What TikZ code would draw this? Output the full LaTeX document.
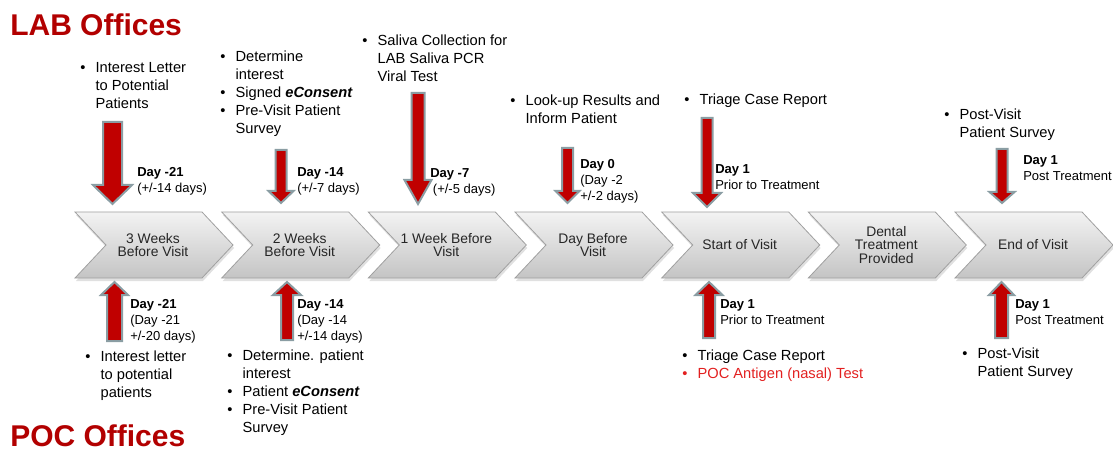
\documentclass[tikz,border=0pt]{standalone}
\usepackage{fontspec}
\setmainfont{Liberation Sans}

\definecolor{officered}{RGB}{178,0,0}
\definecolor{arrowred}{RGB}{192,0,0}
\definecolor{arrowrim}{RGB}{138,157,163}
\definecolor{pocred}{RGB}{226,32,32}
\definecolor{stagetop}{RGB}{243,243,243}
\definecolor{stagebot}{RGB}{196,196,196}
\definecolor{stagerim}{RGB}{160,160,160}

\tikzset{
  title/.style={font=\fontsize{22.5}{26}\selectfont\bfseries, text=officered, inner sep=0pt, anchor=base west},
  note/.style={font=\fontsize{11}{13.5}\selectfont, inner sep=0pt, anchor=base west},
  daytag/.style={font=\fontsize{9.75}{12}\selectfont, inner sep=0pt, anchor=base west},
  stagetxt/.style={font=\fontsize{10.4}{10.2}\selectfont, text=black!85, align=center, inner sep=0pt},
  stagebody/.style={draw=stagerim, line width=0.6pt, top color=stagetop, bottom color=stagebot},
  barrow/.style={draw=arrowrim, line width=1.5pt, fill=arrowred, line join=miter},
}

\newcommand{\itm}{\makebox[11.5pt][l]{\textbullet}}
\newcommand{\daybox}[1]{\begin{tabular}[t]{@{}l@{}}#1\end{tabular}}
\newcommand{\notebox}[1]{\begin{tabular}[t]{@{}l@{}l@{}}#1\end{tabular}}

% chevron step: left x, node name, label
\newcommand{\stage}[3]{%
  \fill [black!30, opacity=0.4] (#1+1,215) -- (#1+128,215) -- (#1+159,248) -- (#1+128,281) -- (#1+1,281) -- (#1+32,248) -- cycle;
  \draw [stagebody] (#1,212) -- (#1+127,212) -- (#1+158,245) -- (#1+127,278) -- (#1,278) -- (#1+31,245) -- cycle;
  \draw (#1+78,245) node [stagetxt] (#2) {#3};
}

% block arrow: x, tail y, head base y, tip y, shaft half width, head half width
\newcommand{\blockarrow}[6]{%
  \draw [barrow] (#1-#5,#2) -- (#1+#5,#2) -- (#1+#5,#3) -- (#1+#6,#3) -- (#1,#4) -- (#1-#6,#3) -- (#1-#5,#3) -- cycle;
}

\begin{document}
\begin{tikzpicture}[x=0.75pt,y=0.75pt,yscale=-1,xscale=1]
\useasboundingbox (0,0) rectangle (1113,452);

%Shape: Timeline chevrons
\stage{75}{wk3}{3 Weeks\\Before Visit}
\stage{221.7}{wk2}{2 Weeks\\Before Visit}
\stage{368.3}{wk1}{1 Week Before\\Visit}
\stage{515}{dayb}{Day Before\\Visit}
\stage{661.7}{start}{Start of Visit}
\stage{808.3}{dental}{Dental\\Treatment\\Provided}
\stage{955}{end}{End of Visit}

%Shape: Down arrows (LAB)
\blockarrow{112.5}{122}{185}{204}{9.5}{19.5}
\blockarrow{281}{150}{191}{203}{5.5}{12.5}
\blockarrow{418}{93}{180}{204}{6.5}{13.5}
\blockarrow{567.5}{148}{191}{203}{5.5}{12}
\blockarrow{707}{118}{193}{207}{5.5}{14}
\blockarrow{1002}{149}{192}{203}{5.5}{12.5}

%Shape: Up arrows (POC)
\blockarrow{114.5}{341}{295}{282}{7.5}{13.5}
\blockarrow{287}{340}{295}{282}{6}{14}
\blockarrow{709}{338}{295}{282}{6}{13.5}
\blockarrow{1001.5}{338}{295}{282}{6.5}{12.5}

% Text Node
\draw (10,36) node [title] (lab) {LAB Offices};
% Text Node
\draw (10,446) node [title] (poc) {POC Offices};

% Text Node
\draw (80,73) node [note] (labn1) {\notebox{\itm & Interest Letter\\ & to Potential\\ & Patients}};
% Text Node
\draw (220,62) node [note] (labn2) {\notebox{\itm & Determine\\ & interest\\ \itm & Signed \textbf{\textit{eConsent}}\\ \itm & Pre-Visit Patient\\ & Survey}};
% Text Node
\draw (362,46) node [note] (labn3) {\notebox{\itm & Saliva Collection for\\ & LAB Saliva PCR\\ & Viral Test}};
% Text Node
\draw (510,106) node [note] (labn4) {\notebox{\itm & Look-up Results and\\ & Inform Patient}};
% Text Node
\draw (684,105) node [note] (labn5) {\notebox{\itm & Triage Case Report}};
% Text Node
\draw (944,120) node [note] (labn6) {\notebox{\itm & Post-Visit\\ & Patient Survey}};

% Text Node
\draw (85,361) node [note] (pocn1) {\notebox{\itm & Interest letter\\ & to potential\\ & patients}};
% Text Node
\draw (227,360) node [note] (pocn2) {\notebox{\itm & Determine. patient\\ & interest\\ \itm & Patient \textbf{\textit{eConsent}}\\ \itm & Pre-Visit Patient\\ & Survey}};
% Text Node
\draw (682,360) node [note] (pocn3) {\notebox{\itm & Triage Case Report\\ \color{pocred}\itm & \color{pocred}POC Antigen (nasal) Test}};
% Text Node
\draw (962,358) node [note] (pocn4) {\notebox{\itm & Post-Visit\\ & Patient Survey}};

% Text Node
\draw (137,177) node [daytag] (labd1) {\daybox{\textbf{Day -21}\\(+/-14 days)}};
% Text Node
\draw (297,177) node [daytag] (labd2) {\daybox{\textbf{Day -14}\\(+/-7 days)}};
% Text Node
\draw (430,178) node [daytag] (labd3) {\daybox{\textbf{Day -7}\\\hspace{2pt}(+/-5 days)}};
% Text Node
\draw (580,169) node [daytag] (labd4) {\daybox{\textbf{Day 0}\\(Day -2\\+/-2 days)}};
% Text Node
\draw (715,174) node [daytag] (labd5) {\daybox{\textbf{Day 1}\\Prior to Treatment}};
% Text Node
\draw (1023,165) node [daytag] (labd6) {\daybox{\textbf{Day 1}\\Post Treatment}};

% Text Node
\draw (130,308) node [daytag] (pocd1) {\daybox{\textbf{Day -21}\\(Day -21\\+/-20 days)}};
% Text Node
\draw (297,308) node [daytag] (pocd2) {\daybox{\textbf{Day -14}\\(Day -14\\+/-14 days)}};
% Text Node
\draw (720,308) node [daytag] (pocd3) {\daybox{\textbf{Day 1}\\Prior to Treatment}};
% Text Node
\draw (1015,308) node [daytag] (pocd4) {\daybox{\textbf{Day 1}\\Post Treatment}};

\end{tikzpicture}
\end{document}
